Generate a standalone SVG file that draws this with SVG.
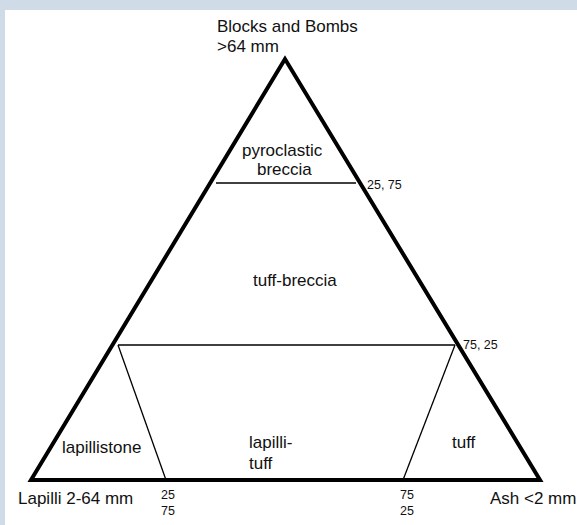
<svg xmlns="http://www.w3.org/2000/svg" width="577" height="525" viewBox="0 0 577 525">
<style>
text{font-family:"Liberation Sans",Arial,sans-serif;fill:#111}
.l{font-size:17px}
.s{font-size:12.5px}
.thick{stroke:#000;stroke-width:4;fill:none;stroke-linejoin:miter}
.thin{stroke:#000;stroke-width:1.3;fill:none}
</style>
<rect x="0" y="0" width="577" height="525" fill="#d0dbe8"/>
<rect x="5" y="10" width="572" height="515" fill="#ffffff"/>
<g id="connectors">
<polygon class="thick" points="285,59 31,480 540,480"/>
<line class="thin" x1="216" y1="183" x2="356" y2="183"/>
<line class="thin" x1="118" y1="345" x2="455" y2="345"/>
<line class="thin" x1="118" y1="345" x2="166" y2="480"/>
<line class="thin" x1="455" y1="345" x2="403" y2="480"/>
</g>
<g id="apex-label"><text class="l" x="217" y="32">Blocks and Bombs</text><text class="l" x="217" y="52">&gt;64 mm</text></g>
<g id="pyroclastic-breccia"><text class="l" x="242" y="156">pyroclastic</text><text class="l" x="257" y="175">breccia</text></g>
<g id="tuff-breccia"><text class="l" x="253" y="286">tuff-breccia</text></g>
<g id="lapillistone"><text class="l" x="62" y="453">lapillistone</text></g>
<g id="lapilli-tuff"><text class="l" x="249" y="448">lapilli-</text><text class="l" x="249" y="469">tuff</text></g>
<g id="tuff"><text class="l" x="452" y="448">tuff</text></g>
<g id="tick-25-75"><text class="s" x="367" y="189">25, 75</text></g>
<g id="tick-75-25"><text class="s" x="463" y="349">75, 25</text></g>
<g id="lapilli-label"><text class="l" x="18" y="504">Lapilli 2-64 mm</text></g>
<g id="ash-label"><text class="l" x="490" y="504">Ash &lt;2 mm</text></g>
<g id="bottom-25-75"><text class="s" x="161" y="499">25</text><text class="s" x="161" y="515">75</text></g>
<g id="bottom-75-25"><text class="s" x="400" y="499">75</text><text class="s" x="400" y="515">25</text></g>
</svg>
